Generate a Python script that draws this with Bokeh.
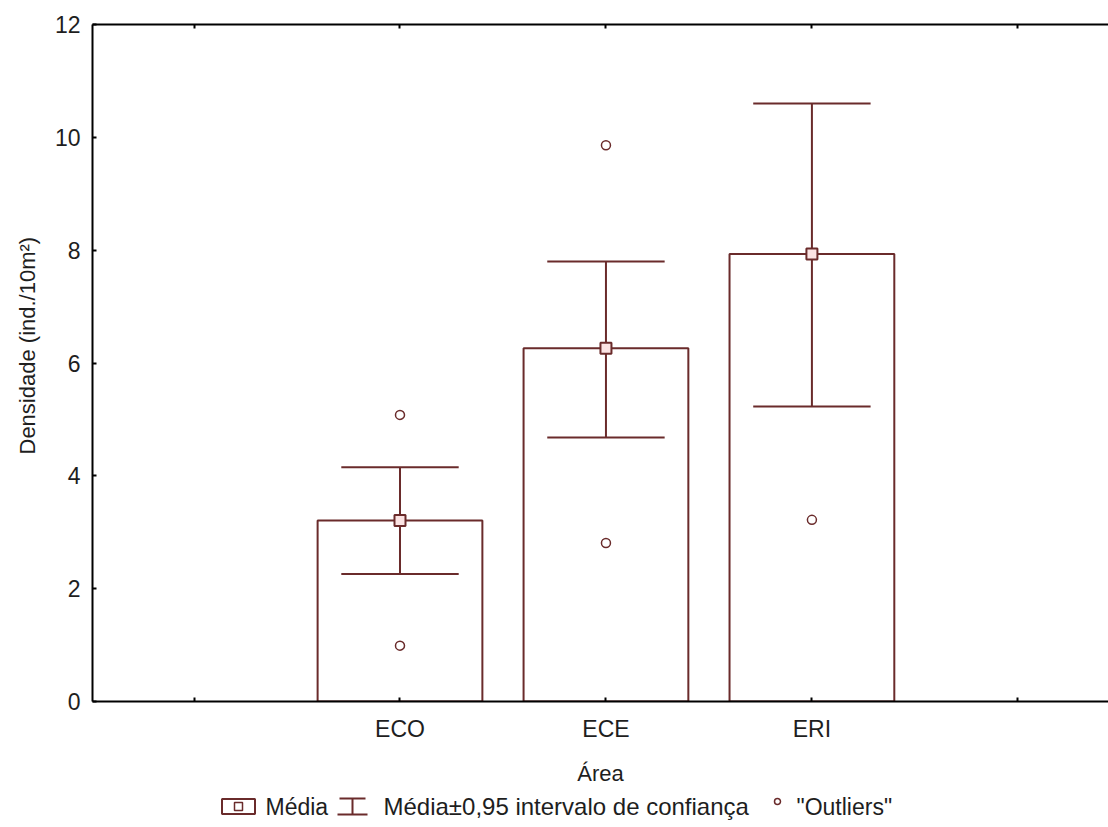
from bokeh.plotting import figure
from bokeh.layouts import column
from bokeh.models import Range1d, FixedTicker, LinearAxis, ColumnDataSource, Title
from bokeh.core.properties import value
from bokeh.embed import file_html
from bokeh.resources import INLINE

# Density per area: mean, 95% confidence interval and outlying observations
areas = ["ECO", "ECE", "ERI"]
means = [3.21, 6.26, 7.93]
ci_lower = [2.26, 4.68, 5.23]
ci_upper = [4.15, 7.80, 10.60]

outlier_areas = ["ECO", "ECO", "ECE", "ECE", "ERI"]
outlier_values = [5.08, 0.99, 9.86, 2.81, 3.22]

y_ticks = [0, 2, 4, 6, 8, 10, 12]

# Category slots: an empty slot on each side of the three areas
pos_of = {lab: i + 2 for i, lab in enumerate(areas)}
empty_slots = [1, len(areas) + 2]
all_slots = list(range(1, len(areas) + 3))

FONT = "Liberation Sans"
DARK = "#6a2b2b"
TXT = "#1e1e1e"
W = 1108
LEFT = 92
H_MAIN = 788
H_LEG = 827 - H_MAIN

p = figure(width=W, height=H_MAIN, x_range=Range1d(0.507, 5.44), y_range=Range1d(0, 12),
           output_backend="svg", toolbar_location=None,
           min_border_left=LEFT, min_border_right=0, min_border_top=24, min_border_bottom=10)
p.outline_line_color = None
p.grid.visible = False
p.background_fill_color = "white"
p.border_fill_color = "white"

# axes
xa = p.xaxis[0]
xa.ticker = FixedTicker(ticks=[pos_of[a] for a in areas], minor_ticks=empty_slots)
xa.major_label_overrides = {pos_of[a]: a for a in areas}
xa.axis_label = "Área"
ya = p.yaxis[0]
ya.ticker = FixedTicker(ticks=y_ticks)

top = LinearAxis(ticker=FixedTicker(ticks=[], minor_ticks=all_slots))
p.add_layout(top, "above")

for ax in (xa, ya, top):
    ax.axis_line_color = "black"
    ax.axis_line_width = 2
    ax.major_tick_line_color = "black"
    ax.major_tick_line_width = 2
    ax.major_tick_in = 4
    ax.major_tick_out = 0
    ax.minor_tick_line_color = None
    ax.major_label_text_font = FONT
    ax.major_label_text_font_size = "23px"
    ax.major_label_text_color = TXT
    ax.axis_label_text_font = FONT
    ax.axis_label_text_font_size = "22px"
    ax.axis_label_text_font_style = "normal"
    ax.axis_label_text_color = TXT
for ax in (xa, top):
    ax.minor_tick_line_color = "black"
    ax.minor_tick_line_width = 2
    ax.minor_tick_in = 4
    ax.minor_tick_out = 0

xa.major_label_standoff = 14
xa.axis_label_standoff = 16
ya.major_label_standoff = 12

# vertical axis title, set a little above the frame's middle
ytitle = Title(text="Densidade (ind./10m²)", align="left", offset=247, standoff=23,
               text_font=FONT, text_font_size="22px", text_font_style="normal",
               text_color=TXT)
p.add_layout(ytitle, "left")

src = ColumnDataSource(dict(
    x=[pos_of[a] for a in areas], mean=means, lo=ci_lower, hi=ci_upper))

p.vbar(x="x", top="mean", bottom=0, width=0.8, source=src,
       fill_color="white", line_color=DARK, line_width=2)
p.segment(x0="x", y0="lo", x1="x", y1="hi", source=src, line_color=DARK, line_width=2)
cap = 0.57
src.data["cl"] = [x - cap / 2 for x in src.data["x"]]
src.data["cr"] = [x + cap / 2 for x in src.data["x"]]
p.segment(x0="cl", y0="hi", x1="cr", y1="hi", source=src, line_color=DARK, line_width=2)
p.segment(x0="cl", y0="lo", x1="cr", y1="lo", source=src, line_color=DARK, line_width=2)
p.scatter(x="x", y="mean", source=src, marker="square", size=11,
          fill_color="#fbe3e3", line_color=DARK, line_width=2)

p.scatter(x=[pos_of[a] for a in outlier_areas], y=outlier_values, marker="circle", size=9,
          fill_color="white", line_color=DARK, line_width=1.5)

# legend strip underneath (frame shares the main plot's horizontal extent, pixel-scaled)
lg = figure(width=W, height=H_LEG, x_range=Range1d(LEFT, W), y_range=Range1d(H_LEG, 0),
            output_backend="svg", toolbar_location=None,
            x_axis_location=None, y_axis_location=None,
            min_border_left=LEFT, min_border_right=0, min_border_top=0, min_border_bottom=0)
lg.grid.visible = False
lg.outline_line_color = None
lg.background_fill_color = "white"
lg.border_fill_color = "white"

cy = 18
x0 = 222
# "Média" icon: box with small square
lg.rect(x=[x0 + 16], y=[cy], width=33, height=15, fill_color="white", line_color=DARK, line_width=2)
lg.scatter(x=[x0 + 16], y=[cy], marker="square", size=8, fill_color="white", line_color=DARK, line_width=1.5)
lg.text(x=[x0 + 43], y=[cy], text=["Média"], text_font=value(FONT), text_font_size="23px",
        text_baseline="middle", text_color=TXT)
# confidence interval icon
bx = 352
lg.segment(x0=[bx], y0=[cy - 8], x1=[bx], y1=[cy + 8], line_color=DARK, line_width=2)
lg.segment(x0=[bx - 13], y0=[cy - 8], x1=[bx + 13], y1=[cy - 8], line_color=DARK, line_width=2)
lg.segment(x0=[bx - 15], y0=[cy + 8], x1=[bx + 15], y1=[cy + 8], line_color=DARK, line_width=2)
lg.text(x=[383], y=[cy], text=["Média±0,95 intervalo de confiança"], text_font=value(FONT),
        text_font_size="24px", text_baseline="middle", text_color=TXT)
# outlier icon
lg.scatter(x=[777], y=[cy - 5], marker="circle", size=6, fill_color="white", line_color=DARK, line_width=1.5)
lg.text(x=[796], y=[cy], text=['"Outliers"'], text_font=value(FONT), text_font_size="23px",
        text_baseline="middle", text_color=TXT)

layout = column(p, lg, spacing=0)
open("out.html", "w").write(file_html(layout, INLINE))
